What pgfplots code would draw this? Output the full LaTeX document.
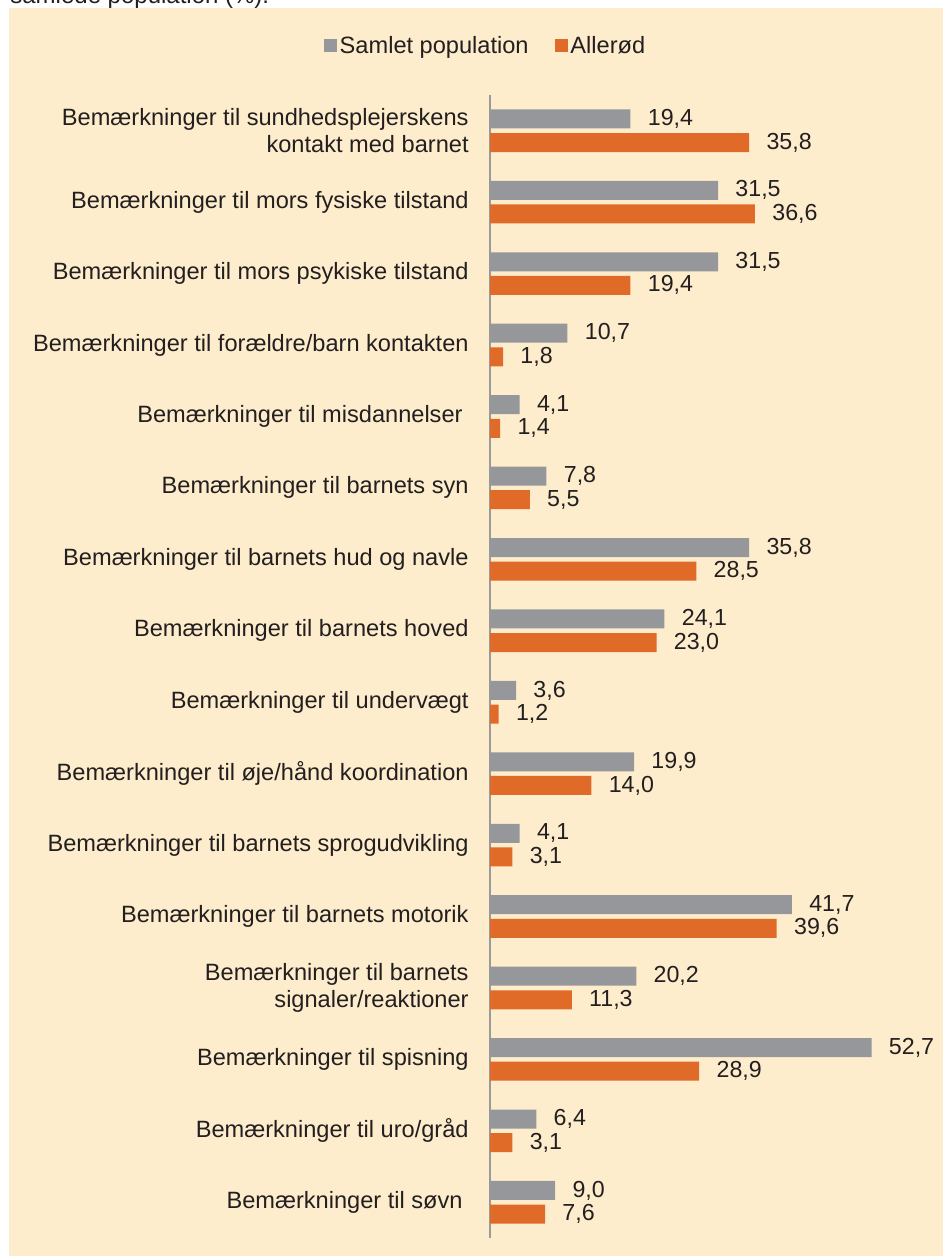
\documentclass[border=0pt]{standalone}
\usepackage{pgfplots}
\pgfplotsset{compat=1.18}
\usepackage{fontspec}
\setmainfont{Liberation Sans}
\definecolor{bg}{HTML}{FDEDCC}
\definecolor{graybar}{HTML}{96979B}
\definecolor{orangebar}{HTML}{E06A28}
\definecolor{axisgray}{HTML}{9A9A9A}
\definecolor{txt}{HTML}{231F20}
\begin{document}
\begin{tikzpicture}[x=0.5pt,y=0.5pt]
\clip (0,0) rectangle (943,1256);
\fill[white] (0,0) rectangle (943,1256);
\fill[bg] (9,0) rectangle (943,1248);
\node[anchor=base west, inner sep=0pt, font=\fontsize{12}{14}\selectfont, text=txt] at (10,1252) {samlede population (\%).};
\begin{axis}[
  at={(245pt,9pt)}, anchor=south west,
  scale only axis, width=202.5pt, height=571.5pt,
  xmin=0, xmax=55.94, ymin=-0.5, ymax=15.5,
  axis y line*=left, axis x line=none,
  y axis line style={color=axisgray, line width=1pt},
  xbar, bar width=9.5pt,
  legend image code/.code={\fill[#1] (0pt,-3.25pt) rectangle (6.5pt,3.25pt);},
  xtick=\empty,
  ytick={0,...,15},
  major tick length=0pt,
  yticklabels={
    {Bemærkninger til søvn\hspace{3pt}},
    {Bemærkninger til uro/gråd},
    {Bemærkninger til spisning},
    {Bemærkninger til barnets\\signaler/reaktioner},
    {Bemærkninger til barnets motorik},
    {Bemærkninger til barnets sprogudvikling},
    {Bemærkninger til øje/hånd koordination},
    {Bemærkninger til undervægt},
    {Bemærkninger til barnets hoved},
    {Bemærkninger til barnets hud og navle},
    {Bemærkninger til barnets syn},
    {Bemærkninger til misdannelser\hspace{3pt}},
    {Bemærkninger til forældre/barn kontakten},
    {Bemærkninger til mors psykiske tilstand},
    {Bemærkninger til mors fysiske tilstand},
    {Bemærkninger til sundhedsplejerskens\\kontakt med barnet}
  },
  yticklabel style={font=\fontsize{11.8}{13.5}\selectfont, text=txt, align=right, inner sep=0pt, xshift=-10.5pt},
  nodes near coords={\pgfmathprintnumber[fixed,fixed zerofill,precision=1,use comma,assume math mode=true]{\pgfplotspointmeta}},
  nodes near coords style={font=\fontsize{11.6}{13}\selectfont, text=txt, anchor=west, inner sep=0pt, xshift=8.5pt},
  clip=false,
  legend columns=2,
  legend style={at={(-0.0099,1.0429)}, anchor=center, draw=none, fill=none,
    font=\fontsize{11.8}{13}\selectfont, text=txt,
    /tikz/every even column/.append style={column sep=12pt},
    nodes={inner sep=1.2pt}},
]
\addplot[fill=graybar, draw=none, bar shift=5.9pt] coordinates {
  (9.0,0) (6.4,1) (52.7,2) (20.2,3) (41.7,4) (4.1,5) (19.9,6) (3.6,7)
  (24.1,8) (35.8,9) (7.8,10) (4.1,11) (10.7,12) (31.5,13) (31.5,14) (19.4,15)
};
\addlegendentry{Samlet population}
\addplot[fill=orangebar, draw=none, bar shift=-5.9pt] coordinates {
  (7.6,0) (3.1,1) (28.9,2) (11.3,3) (39.6,4) (3.1,5) (14.0,6) (1.2,7)
  (23.0,8) (28.5,9) (5.5,10) (1.4,11) (1.8,12) (19.4,13) (36.6,14) (35.8,15)
};
\addlegendentry{Allerød}
\end{axis}
\end{tikzpicture}
\end{document}
